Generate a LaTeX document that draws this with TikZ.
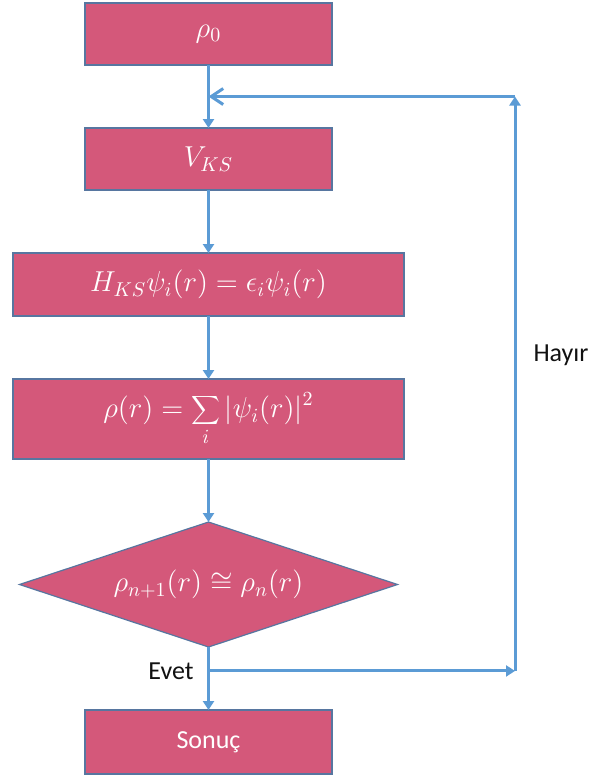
\documentclass[tikz,border=0pt]{standalone}
\usepackage{fontspec}
\setsansfont{Carlito}
\usetikzlibrary{arrows.meta, positioning, shapes.geometric}
\definecolor{boxFill}{HTML}{D4587A}
\definecolor{boxLine}{HTML}{5776A0}
\definecolor{flowBlue}{HTML}{5B9BD5}
\definecolor{textDark}{HTML}{111111}

\begin{document}
\begin{tikzpicture}[
    box/.style={rectangle, draw=boxLine, line width=0.6pt, fill=boxFill,
      minimum width=123.5pt, minimum height=31pt, inner sep=0pt, outer sep=0pt,
      text=white, font=\Large},
    widebox/.style={box, minimum width=195.5pt},
    decision/.style={diamond, aspect=3, draw=boxLine, line width=0.6pt,
      fill=boxFill, minimum width=189pt, minimum height=62.5pt,
      inner sep=0pt, outer sep=0pt, text=white, font=\Large},
    flow/.style={draw=flowBlue, line width=1.5pt,
      -{Triangle[length=4.5pt, width=5.5pt]}},
    back/.style={draw=flowBlue, line width=1.5pt,
      -{Straight Barb[length=6pt, width=8pt]}},
    lbl/.style={font=\sffamily\fontsize{13}{15}\selectfont, text=textDark,
      inner sep=0pt, outer sep=0pt},
    node distance=31.5pt
  ]
    \useasboundingbox (0pt,0pt) rectangle (296pt,-389pt);

    \node[box] (rho0) at (104.25pt,-17pt) {$\rho_0$};
    \node[box, below=of rho0] (vks) {$V_{KS}$};
    \node[widebox, below=of vks, minimum height=31.5pt]
      (hks) {$H_{KS}\psi_i(r)=\epsilon_i\psi_i(r)$};
    \node[widebox, below=of hks, minimum height=40pt]
      (dens) {$\displaystyle\rho(r)=\sum_i|\psi_i(r)|^2$};
    \node[decision, below=of dens] (check) {$\rho_{n+1}(r)\cong\rho_n(r)$};
    \node[box, below=of check, minimum height=32pt,
      font=\sffamily\fontsize{13}{15}\selectfont] (sonuc) {Sonuç};

    % flow down the column
    \draw[flow] (rho0) -- coordinate (join) (vks);
    \draw[flow] (vks) -- (hks);
    \draw[flow] (hks) -- (dens);
    \draw[flow] (dens) -- (check);
    \draw[flow] (check) -- coordinate[pos=0.38] (evet) (sonuc);

    % loop back when not converged
    \coordinate[right=153.25pt of evet] (br);
    \coordinate (tr) at (br |- join);
    \draw[flow] (evet) -- (br);
    \draw[flow] (br) -- (tr);
    \draw[back] (tr) -- (join);

    \node[lbl, left=7.5pt of evet, anchor=east] (evetlbl) {Evet};
    \node[lbl] (hayir) at (280.5pt,-177.5pt) {Hayır};
\end{tikzpicture}
\end{document}
